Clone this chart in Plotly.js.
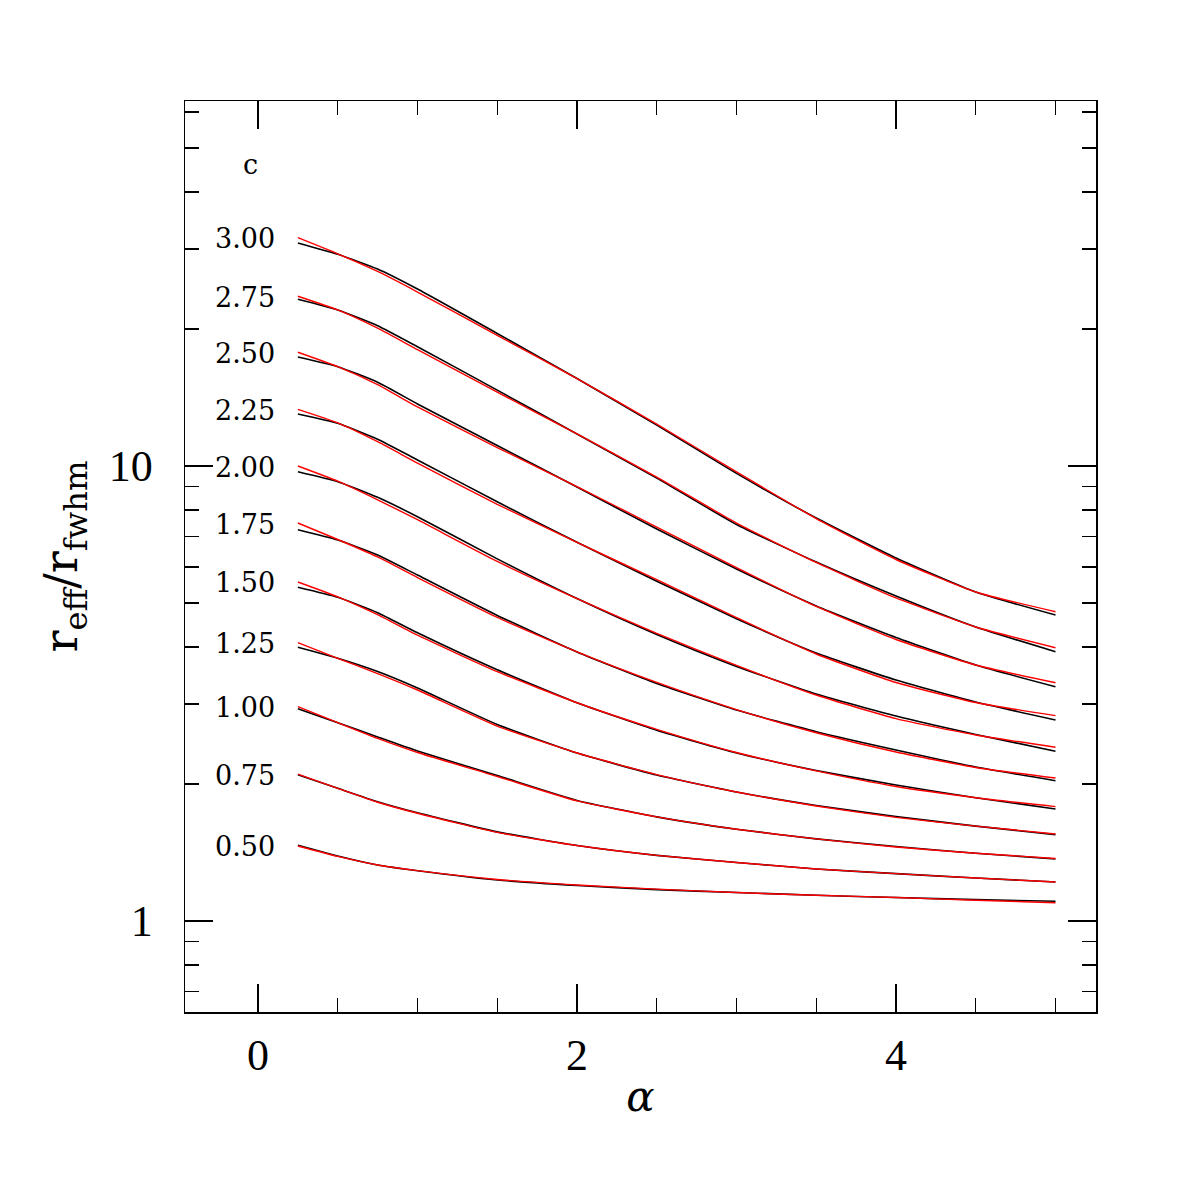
<!DOCTYPE html>
<html>
<head>
<meta charset="utf-8">
<script src="https://cdn.plot.ly/plotly-3.0.1.min.js"></script>
<style>html,body{margin:0;padding:0;background:#fff;}</style>
</head>
<body>
<div id="chart" style="width:1196px;height:1196px;"></div>
<script>
// alpha grid
const alpha = [0.25, 0.5, 0.75, 1.0, 1.5, 2.0, 2.5, 3.0, 3.5, 4.0, 4.5, 5.0];
// curve labels (c values)
const cLabels = ['3.00','2.75','2.50','2.25','2.00','1.75','1.50','1.25','1.00','0.75','0.50'];

// black curves (r_eff / r_fwhm)
const blackC300 = [30.91, 29.19, 27.10, 24.49, 19.56, 15.57, 12.30, 9.632, 7.685, 6.278, 5.286, 4.705];
const blackC275 = [23.25, 22.03, 20.34, 18.29, 14.68, 11.76, 9.407, 7.437, 6.152, 5.180, 4.428, 3.907];
const blackC250 = [17.36, 16.53, 15.28, 13.69, 11.09, 8.991, 7.269, 5.937, 4.924, 4.198, 3.652, 3.272];
const blackC225 = [13.01, 12.41, 11.45, 10.31, 8.343, 6.798, 5.582, 4.618, 3.881, 3.386, 3.029, 2.766];
const blackC200 = [9.716, 9.237, 8.535, 7.737, 6.249, 5.112, 4.263, 3.627, 3.154, 2.821, 2.570, 2.361];
const blackC175 = [7.244, 6.877, 6.374, 5.759, 4.695, 3.903, 3.327, 2.908, 2.606, 2.376, 2.180, 2.034];
const blackC150 = [5.413, 5.145, 4.760, 4.301, 3.567, 3.018, 2.625, 2.340, 2.142, 1.990, 1.866, 1.763];
const blackC125 = [3.995, 3.779, 3.534, 3.252, 2.703, 2.340, 2.093, 1.921, 1.794, 1.697, 1.616, 1.548];
const blackC100 = [2.928, 2.728, 2.538, 2.364, 2.088, 1.841, 1.694, 1.591, 1.515, 1.458, 1.409, 1.369];
const blackC075 = [2.096, 1.957, 1.829, 1.729, 1.570, 1.465, 1.394, 1.345, 1.301, 1.271, 1.243, 1.218];
const blackC050 = [1.467, 1.390, 1.328, 1.290, 1.231, 1.197, 1.172, 1.155, 1.139, 1.126, 1.114, 1.105];

// red curves (fits)
const redC300 = [31.75, 29.26, 26.76, 24.12, 19.36, 15.57, 12.36, 9.705, 7.666, 6.230, 5.286, 4.784];
const redC275 = [23.61, 22.03, 20.08, 18.01, 14.53, 11.76, 9.455, 7.494, 6.137, 5.128, 4.428, 3.987];
const redC250 = [17.78, 16.53, 15.09, 13.48, 10.98, 9.013, 7.343, 5.982, 4.912, 4.156, 3.652, 3.339];
const redC225 = [13.32, 12.44, 11.31, 10.15, 8.238, 6.798, 5.624, 4.642, 3.862, 3.343, 3.021, 2.827];
const redC200 = [10.00, 9.260, 8.427, 7.620, 6.170, 5.112, 4.285, 3.646, 3.138, 2.785, 2.564, 2.409];
const redC175 = [7.494, 6.894, 6.310, 5.686, 4.648, 3.903, 3.344, 2.915, 2.593, 2.352, 2.175, 2.062];
const redC150 = [5.560, 5.158, 4.712, 4.247, 3.531, 3.018, 2.638, 2.346, 2.137, 1.975, 1.866, 1.784];
const redC125 = [4.089, 3.779, 3.498, 3.219, 2.682, 2.340, 2.098, 1.921, 1.790, 1.689, 1.616, 1.553];
const redC100 = [2.958, 2.728, 2.519, 2.346, 2.078, 1.836, 1.694, 1.591, 1.515, 1.454, 1.409, 1.372];
const redC075 = [2.103, 1.957, 1.824, 1.725, 1.566, 1.465, 1.394, 1.345, 1.301, 1.271, 1.243, 1.218];
const redC050 = [1.462, 1.387, 1.328, 1.290, 1.234, 1.200, 1.175, 1.155, 1.139, 1.126, 1.111, 1.097];

const blackSeries = [blackC300, blackC275, blackC250, blackC225, blackC200, blackC175, blackC150, blackC125, blackC100, blackC075, blackC050];
const redSeries = [redC300, redC275, redC250, redC225, redC200, redC175, redC150, redC125, redC100, redC075, redC050];

const traces = [];
blackSeries.forEach((ys, i) => {
  traces.push({x: alpha, y: ys, type: 'scatter', mode: 'lines', name: 'c=' + cLabels[i],
    line: {color: '#000000', width: 1.6, shape: 'spline', smoothing: 0.5}, hoverinfo: 'skip'});
});
redSeries.forEach((ys, i) => {
  traces.push({x: alpha, y: ys, type: 'scatter', mode: 'lines', name: 'fit c=' + cLabels[i],
    line: {color: '#ff0000', width: 1.4, shape: 'spline', smoothing: 0.5}, hoverinfo: 'skip'});
});

const labelFont = {family: 'DejaVu Serif', size: 27, color: '#000'};
const annotations = cLabels.map((lab, i) => ({
  x: 0.12, y: Math.log10(redSeries[i][0]), xref: 'x', yref: 'y',
  text: lab, showarrow: false, xanchor: 'right', yanchor: 'middle', yshift: -1, font: labelFont
}));
annotations.push({x: -0.05, y: Math.log10(45.9), xref: 'x', yref: 'y', text: 'c', showarrow: false,
  xanchor: 'center', yanchor: 'middle', font: labelFont});

const tickFont = {family: 'Liberation Serif', size: 44, color: '#000'};
const layout = {
  width: 1196, height: 1196,
  margin: {l: 185, r: 100, t: 101, b: 184},
  paper_bgcolor: '#fff', plot_bgcolor: '#fff',
  showlegend: false,
  xaxis: {
    range: [-0.4577, 5.254], showgrid: false, zeroline: false, automargin: false,
    showline: true, linecolor: '#000', linewidth: 1.5, mirror: 'allticks',
    ticks: 'inside', ticklen: 28, tickwidth: 1.3, tickcolor: '#000',
    tick0: 0, dtick: 2,
    minor: {ticks: 'inside', ticklen: 14, tickwidth: 1.3, tickcolor: '#000', dtick: 0.5, tick0: 0, showgrid: false},
    tickfont: tickFont, ticklabelstandoff: 4,
    title: {text: '<i>α</i>', font: {family: 'DejaVu Serif', size: 42, color: '#000'}, standoff: 2}
  },
  yaxis: {
    type: 'log', range: [-0.2, 1.8022], showgrid: false, zeroline: false, automargin: false,
    showline: true, linecolor: '#000', linewidth: 1.5, mirror: 'allticks',
    ticks: 'inside', ticklen: 28, tickwidth: 1.3, tickcolor: '#000',
    dtick: 1,
    minor: {ticks: 'inside', ticklen: 14, tickwidth: 1.3, tickcolor: '#000', dtick: 'D1', showgrid: false},
    tickfont: tickFont, ticklabelstandoff: 22,
    title: {text: 'r<sub>eff</sub>/r<sub>fwhm</sub>', font: {family: 'DejaVu Serif', size: 46, color: '#000'}, standoff: 16}
  },
  annotations: annotations
};

Plotly.newPlot('chart', traces, layout, {displayModeBar: false, staticPlot: true});
</script>
</body>
</html>
